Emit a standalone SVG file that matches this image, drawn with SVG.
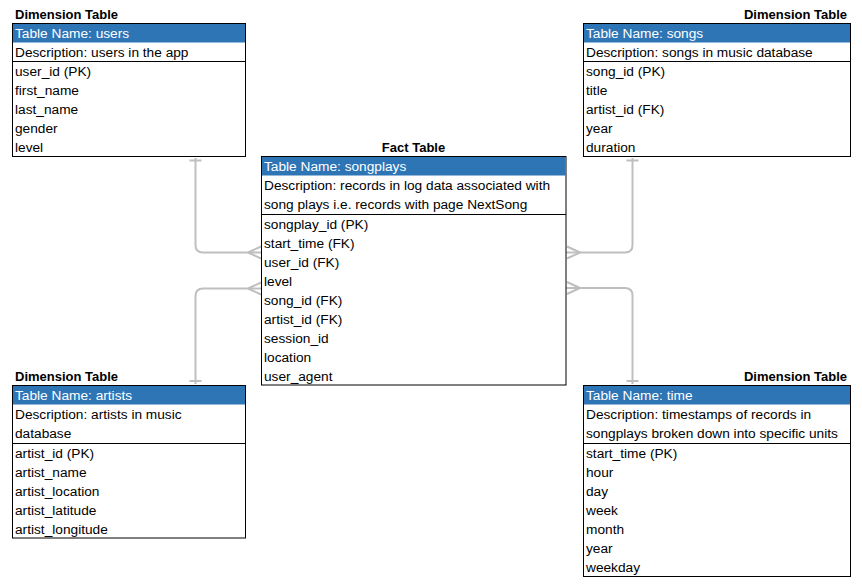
<svg xmlns="http://www.w3.org/2000/svg" width="862" height="585" viewBox="0 0 862 585">
<style>
.t{font-family:"Liberation Sans",Arial,sans-serif;font-size:13.7px;fill:#000}
.h{font-family:"Liberation Sans",Arial,sans-serif;font-size:13.7px;fill:#fff}
.ttl{font-family:"Liberation Sans",Arial,sans-serif;font-size:13px;font-weight:bold;fill:#000}
.box{fill:#fff;stroke:#000;stroke-width:1}
.hdr{fill:#2e75b6}
.sep{stroke:#000;stroke-width:1}
.con{fill:none;stroke:#bfbfbf;stroke-width:2}
</style>
<rect width="862" height="585" fill="#fff"/>
<g id="connectors">
<path class="con" d="M195.5 158 V245 Q195.5 252.5 203 252.5 H261"/>
<path class="con" d="M189.5 160.5 H201.5 M248 252.5 L261 246.5 M248 252.5 L261 258.5"/>
<path class="con" d="M261 288.5 H203 Q195.5 288.5 195.5 296 V384"/>
<path class="con" d="M189.5 381 H201.5 M248 288.5 L261 282.5 M248 288.5 L261 294.5"/>
<path class="con" d="M632.5 158 V245 Q632.5 252.5 625 252.5 H566"/>
<path class="con" d="M626.5 160.5 H638.5 M580 252.5 L567 246.5 M580 252.5 L567 258.5"/>
<path class="con" d="M566 288 H625 Q632.5 288 632.5 295.5 V384"/>
<path class="con" d="M626.5 381 H638.5 M580 288 L567 282 M580 288 L567 294"/>
</g>
<g id="users">
<text class="ttl" x="15" y="19">Dimension Table</text>
<rect class="box" x="12.5" y="23.5" width="233" height="133"/>
<rect class="hdr" x="13" y="24" width="232" height="18.5"/>
<line class="sep" x1="12.5" y1="61.5" x2="245.5" y2="61.5"/>
<text class="h" x="15" y="38">Table Name: users</text>
<text class="t" x="15" y="57">Description: users in the app</text>
<text class="t" x="15" y="76">user_id (PK)</text>
<text class="t" x="15" y="95">first_name</text>
<text class="t" x="15" y="114">last_name</text>
<text class="t" x="15" y="133">gender</text>
<text class="t" x="15" y="152">level</text>
</g>
<g id="songs">
<text class="ttl" x="847" y="19" text-anchor="end">Dimension Table</text>
<rect class="box" x="583.5" y="23.5" width="267" height="133"/>
<rect class="hdr" x="584" y="24" width="266" height="18.5"/>
<line class="sep" x1="583.5" y1="61.5" x2="850.5" y2="61.5"/>
<text class="h" x="586" y="38">Table Name: songs</text>
<text class="t" x="586" y="57">Description: songs in music database</text>
<text class="t" x="586" y="76">song_id (PK)</text>
<text class="t" x="586" y="95">title</text>
<text class="t" x="586" y="114">artist_id (FK)</text>
<text class="t" x="586" y="133">year</text>
<text class="t" x="586" y="152">duration</text>
</g>
<g id="songplays">
<text class="ttl" x="413.5" y="152" text-anchor="middle">Fact Table</text>
<rect class="box" x="261.5" y="156.5" width="304.5" height="228.5"/>
<rect class="hdr" x="262" y="157" width="303.5" height="18.5"/>
<line class="sep" x1="261.5" y1="214.5" x2="566" y2="214.5"/>
<text class="h" x="264" y="171">Table Name: songplays</text>
<text class="t" x="264" y="190">Description: records in log data associated with</text>
<text class="t" x="264" y="209">song plays i.e. records with page NextSong</text>
<text class="t" x="264" y="229">songplay_id (PK)</text>
<text class="t" x="264" y="248">start_time (FK)</text>
<text class="t" x="264" y="267">user_id (FK)</text>
<text class="t" x="264" y="286">level</text>
<text class="t" x="264" y="305">song_id (FK)</text>
<text class="t" x="264" y="324">artist_id (FK)</text>
<text class="t" x="264" y="343">session_id</text>
<text class="t" x="264" y="362">location</text>
<text class="t" x="264" y="381">user_agent</text>
</g>
<g id="artists">
<text class="ttl" x="15" y="381">Dimension Table</text>
<rect class="box" x="12.5" y="385.5" width="233" height="152.5"/>
<rect class="hdr" x="13" y="386" width="232" height="18.5"/>
<line class="sep" x1="12.5" y1="443.5" x2="245.5" y2="443.5"/>
<text class="h" x="15" y="400">Table Name: artists</text>
<text class="t" x="15" y="419">Description: artists in music</text>
<text class="t" x="15" y="438">database</text>
<text class="t" x="15" y="458">artist_id (PK)</text>
<text class="t" x="15" y="477">artist_name</text>
<text class="t" x="15" y="496">artist_location</text>
<text class="t" x="15" y="515">artist_latitude</text>
<text class="t" x="15" y="534">artist_longitude</text>
</g>
<g id="time">
<text class="ttl" x="847" y="381" text-anchor="end">Dimension Table</text>
<rect class="box" x="583.5" y="385.5" width="267" height="191"/>
<rect class="hdr" x="584" y="386" width="266" height="18.5"/>
<line class="sep" x1="583.5" y1="443.5" x2="850.5" y2="443.5"/>
<text class="h" x="586" y="400">Table Name: time</text>
<text class="t" x="586" y="419">Description: timestamps of records in</text>
<text class="t" x="586" y="438">songplays broken down into specific units</text>
<text class="t" x="586" y="458">start_time (PK)</text>
<text class="t" x="586" y="477">hour</text>
<text class="t" x="586" y="496">day</text>
<text class="t" x="586" y="515">week</text>
<text class="t" x="586" y="534">month</text>
<text class="t" x="586" y="553">year</text>
<text class="t" x="586" y="572">weekday</text>
</g>
</svg>
